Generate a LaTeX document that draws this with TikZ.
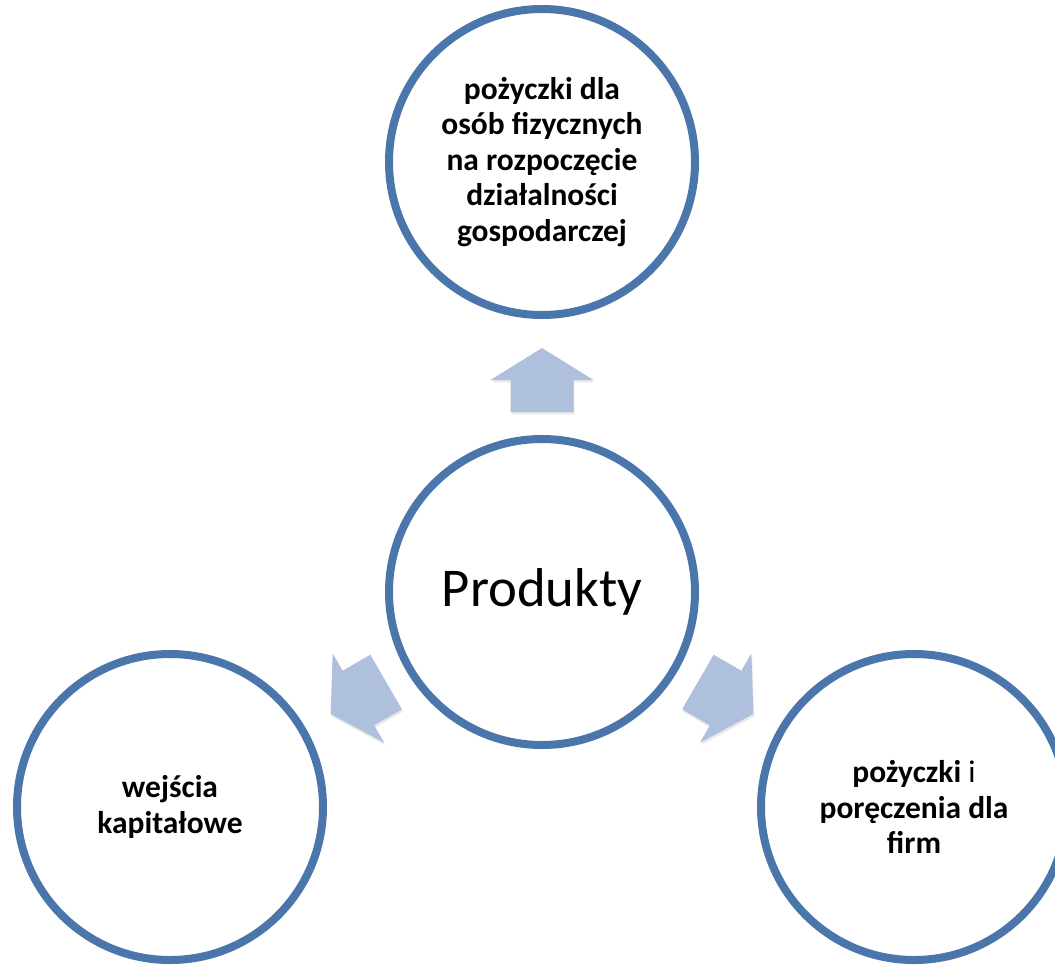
\documentclass[tikz,border=0pt]{standalone}
\usepackage{fontspec}
\setmainfont{Carlito}
\usetikzlibrary{shadows}
\definecolor{ringblue}{RGB}{74,118,172}
\definecolor{arrowblue}{RGB}{175,192,220}
\begin{document}
\begin{tikzpicture}[x=0.75pt,y=-0.75pt,
  ring/.style={circle, draw=ringblue, line width=6pt, fill=white,
    minimum size=229.5pt, inner sep=0pt, align=center,
    drop shadow={opacity=0.18, shadow xshift=0.6pt, shadow yshift=-1.8pt}},
  lbl/.style={font=\fontsize{23.6}{26.6}\selectfont\bfseries},
  mainlbl/.style={font=\fontsize{41}{48}\selectfont},
  blockarrow/.style={fill=arrowblue,
    drop shadow={opacity=0.18, shadow xshift=0.6pt, shadow yshift=-1.8pt}}]
\path[use as bounding box, clip] (0,0) rectangle (1055,964);
\fill[white] (0,0) rectangle (1055,964);

\node[ring, mainlbl] (c) at (542,592) {Produkty};
\node[ring, lbl] (t) at (542,162) {pożyczki dla\\osób fizycznych\\na rozpoczęcie\\działalności\\gospodarczej};
\node[ring, lbl] (l) at (170,807) {wejścia\\kapitałowe};
\node[ring, lbl] (r) at (914,807) {pożyczki {\mdseries i}\\poręczenia dla\\firm};

\coordinate (au) at (542,380);
\coordinate (al) at (358.4,698);
\coordinate (ar) at (725.6,698);

\foreach \pos/\ang in {au/90, al/210, ar/330}{
  \begin{scope}[shift={(\pos)}, rotate=\ang]
    \path[blockarrow] (-32,-31.5) -- (0,-31.5) -- (0,-51.5) -- (32,0)
      -- (0,51.5) -- (0,31.5) -- (-32,31.5) -- cycle;
  \end{scope}
}
\end{tikzpicture}
\end{document}
